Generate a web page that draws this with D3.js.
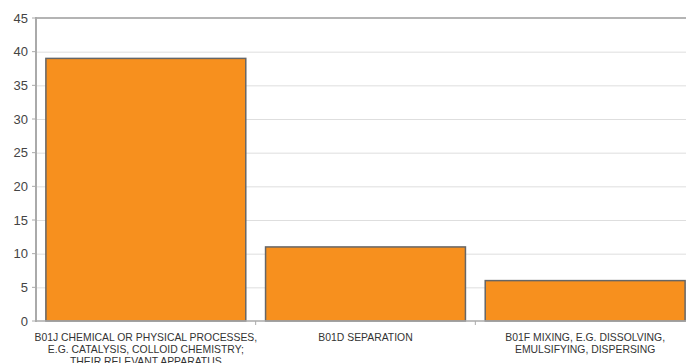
<!DOCTYPE html>
<meta charset="utf-8">
<style>
body { margin: 0; background: #fff; }
.grid line { stroke: #dedede; stroke-width: 1px; }
.bar { fill: #f7901e; stroke: #666; stroke-width: 1.5px; }
.ytick { font-family: "Liberation Sans", Arial, sans-serif; font-size: 13px; fill: #444; }
.xlab { font-family: "Liberation Sans", Arial, sans-serif; font-size: 10.4px; fill: #333; }
</style>
<body>
<script src="https://d3js.org/d3.v7.min.js"></script>
<script>

// data
var categories = ["B01J", "B01D", "B01F"];
var values = [39, 11, 6];
var labels = [
  ["B01J CHEMICAL OR PHYSICAL PROCESSES,", "E.G. CATALYSIS, COLLOID CHEMISTRY;", "THEIR RELEVANT APPARATUS"],
  ["B01D SEPARATION"],
  ["B01F MIXING, E.G. DISSOLVING,", "EMULSIFYING, DISPERSING"]
];
var yTicks = [0, 5, 10, 15, 20, 25, 30, 35, 40, 45];

var margin = {top: 18, left: 36},
    width = 659,
    height = 303;

var svg = d3.select("body").append("svg")
    .attr("width", 686)
    .attr("height", 363)
  .append("g")
    .attr("transform", "translate(" + margin.left + "," + margin.top + ")");

var x = d3.scaleBand().domain(categories).range([0, width]).paddingInner(0.09).paddingOuter(0.045);
var y = d3.scaleLinear().domain([0, 45]).range([height, 0]);

// gridlines
svg.append("g").attr("class", "grid")
  .selectAll("line").data(yTicks.filter(function(d) { return d > 0 && d < 45; }))
  .enter().append("line")
    .attr("x1", 0).attr("x2", width)
    .attr("y1", function(d) { return y(d) + 0.5; })
    .attr("y2", function(d) { return y(d) + 0.5; });

// top border line
svg.append("line")
    .attr("x1", 0).attr("x2", width)
    .attr("y1", y(45)).attr("y2", y(45))
    .attr("stroke", "#b4b4b4").attr("stroke-width", 2);

// bars
svg.selectAll(".bar").data(values).enter().append("rect")
    .attr("class", "bar")
    .attr("x", function(d, i) { return x(categories[i]); })
    .attr("width", x.bandwidth())
    .attr("y", function(d) { return y(d); })
    .attr("height", function(d) { return y(0) - y(d); });

// axes lines
svg.append("line")
    .attr("x1", 0).attr("x2", width)
    .attr("y1", y(0)).attr("y2", y(0))
    .attr("stroke", "#aaa").attr("stroke-width", 1.5);
svg.append("line")
    .attr("x1", 0).attr("x2", 0)
    .attr("y1", y(45) - 1).attr("y2", y(0) + 1)
    .attr("stroke", "#aaa").attr("stroke-width", 2);

// y tick marks and labels
svg.selectAll(".ytm").data(yTicks).enter().append("line")
    .attr("x1", -4).attr("x2", 0)
    .attr("y1", function(d) { return y(d); })
    .attr("y2", function(d) { return y(d); })
    .attr("stroke", "#aaa");
svg.selectAll(".ytick").data(yTicks).enter().append("text")
    .attr("class", "ytick")
    .attr("x", -8)
    .attr("y", function(d) { return y(d); })
    .attr("dy", "0.36em")
    .attr("text-anchor", "end")
    .text(function(d) { return d; });

// x tick marks at band boundaries
var step = x.step();
svg.selectAll(".xtm").data(categories).enter().append("line")
    .attr("x1", function(d) { return x(d) + x.bandwidth() + (step - x.bandwidth()) / 2; })
    .attr("x2", function(d) { return x(d) + x.bandwidth() + (step - x.bandwidth()) / 2; })
    .attr("y1", y(0)).attr("y2", y(0) + 4)
    .attr("stroke", "#aaa");

// x labels
categories.forEach(function(c, i) {
  var t = svg.append("text")
      .attr("class", "xlab")
      .attr("text-anchor", "middle")
      .attr("x", x(c) + x.bandwidth() / 2)
      .attr("y", y(0) + 20);
  labels[i].forEach(function(line, j) {
    t.append("tspan")
        .attr("x", x(c) + x.bandwidth() / 2)
        .attr("dy", j === 0 ? 0 : 12)
        .text(line);
  });
});

</script>
</body>
